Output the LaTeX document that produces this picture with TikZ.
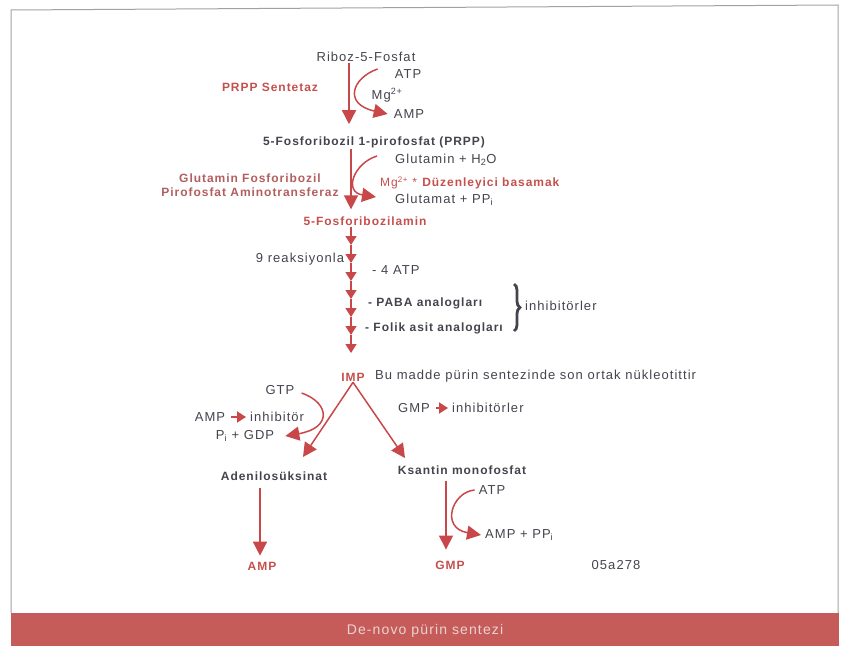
\documentclass[tikz,border=0pt]{standalone}
\usepackage{fontspec}
\setmainfont[LetterSpace=8]{Liberation Sans}
\usepackage{tikz}
\usetikzlibrary{arrows.meta,positioning,calc,decorations.pathreplacing}
\definecolor{pathred}{HTML}{C8484A}
\definecolor{labred}{HTML}{C4504D}
\definecolor{enzred}{HTML}{B25E5E}
\definecolor{labgray}{HTML}{45434D}
\definecolor{barred}{HTML}{C65C59}
\definecolor{barlight}{HTML}{EAD3D3}
\definecolor{framegray}{HTML}{A59FA5}

\begin{document}
\begin{tikzpicture}[x=1pt,y=-1pt,
  lab/.style={text=labgray,font=\fontsize{13}{15}\selectfont,inner sep=1pt},
  blab/.style={lab,font=\fontsize{12}{14}\selectfont\bfseries},
  rlab/.style={blab,text=labred},
  arr/.style={draw=pathred,line width=1.5pt,-{Triangle[length=14pt,width=14pt]}},
  smallarr/.style={draw=pathred,line width=1.5pt,-{Triangle[length=9pt,width=11pt]}},
  inharr/.style={draw=pathred,line width=2pt,-{Triangle[length=9pt,width=11pt]},shorten <=5pt,shorten >=3pt},
  bracket/.style={draw=labgray,line width=2.8pt,decorate,decoration={brace,amplitude=6pt}}
]
\useasboundingbox (0,0) rectangle (848,653);
% frame and caption bar
\draw[framegray,line width=1pt] (11,613) -- (11,10) -- (838,5) -- (838,613);
\fill[barred] (11,613) rectangle (839,646);
\node[font=\fontsize{14}{16}\selectfont,text=barlight] (title) at (425,631) {De-novo pürin sentezi};

% PRPP step
\node[lab] (riboz) at (366,57) {Riboz-5-Fosfat};
\node[lab] (atpa) at (408,74) {ATP};
\node[lab] (mg) at (387,95) {Mg\textsuperscript{2+}};
\node[lab] (ampa) at (409,114) {AMP};
\node[rlab] (prs) at (270,87) {PRPP Sentetaz};
\node[blab] (prpp) at (374,142) {5-Fosforibozil 1-pirofosfat (PRPP)};

% committed step
\node[lab,anchor=west] (glnw) at (394,160) {Glutamin + H\textsubscript{2}O};
\node[lab,font=\fontsize{12}{14}\selectfont,text=labred,anchor=west] (reg) at (379,183) {Mg\textsuperscript{2+} * \textbf{Düzenleyici basamak}};
\node[lab,anchor=west] (glup) at (394,200) {Glutamat + PP\textsubscript{i}};
\node[rlab,text=enzred,align=center] (gpat) at (250,185) {Glutamin Fosforibozil\\Pirofosfat Aminotransferaz};
\node[rlab] (amin) at (365,221) {5-Fosforibozilamin};

% nine reactions
\node[lab] (reak) at (300,259) {9 reaksiyonla};
\node[lab,anchor=west] (atp4) at (371,270) {- 4 ATP};
\node[blab,anchor=west] (paba) at (367,303) {- PABA analogları};
\node[blab,anchor=west] (folik) at (364,328) {- Folik asit analogları};
\node[lab,anchor=west] (inh) at (524,306) {inhibitörler};
\draw[bracket] (514,284) -- (514,331);

% branch point
\node[rlab] (imp) at (353,377) {IMP};
\node[lab,anchor=west] (bu) at (374,376) {Bu madde pürin sentezinde son ortak nükleotittir};
\node[lab] (gtp) at (280,390) {GTP};
\node[lab] (ampi) at (210,417) {AMP};
\node[lab,anchor=west] (inha) at (249,417) {inhibitör};
\node[lab] (pigdp) at (245,436) {P\textsubscript{i} + GDP};
\node[lab] (gmpi) at (414,408) {GMP};
\node[lab,anchor=west] (inhg) at (451,408) {inhibitörler};
\node[blab] (ads) at (274,476) {Adenilosüksinat};
\node[blab] (xmp) at (462,470) {Ksantin monofosfat};
\node[lab] (atpc) at (492,490) {ATP};
\node[lab,anchor=west] (amppp) at (484,535) {AMP + PP\textsubscript{i}};
\node[rlab] (ampf) at (262,566) {AMP};
\node[rlab] (gmpf) at (450,565) {GMP};
\node[lab] (code) at (616,565) {05a278};

\coordinate (ax) at (349,0);
\coordinate (ch) at (351,0);
\coordinate (adtip) at (303,457);
\coordinate (xtip) at (405,458);

\draw[arr,shorten >=11pt] (riboz.south -| ax) -- (prpp.north -| ax);
\draw[arr] ([xshift=-16pt,yshift=5pt]atpa.west) .. controls (352,78) and (343,104) .. ([xshift=-5pt]ampa.west);
\draw[arr,shorten >=6pt] (prpp.south -| ch) -- (amin.north -| ch);
\draw[arr] ([xshift=-17pt,yshift=4pt]glnw.west) .. controls (354,163) and (343,192) .. ([xshift=-18pt,yshift=3pt]glup.west);

\coordinate (c0) at (amin.south -| ch);
\foreach \k [remember=\k as \prev (initially 0)] in {1,...,7}{
  \coordinate (c\k) at (351,{227+18*\k});
  \draw[smallarr] (c\prev) -- (c\k);
}

\draw[arr] (imp.south) -- (adtip);
\draw[arr] (imp.south) -- (xtip);
\draw[arr] ([xshift=6pt,yshift=-3pt]gtp.east) .. controls (330,403) and (332,428) .. ([xshift=10pt]pigdp.east);
\draw[inharr] (ampi) -- (inha);
\draw[inharr] (gmpi) -- (inhg);

\draw[arr,shorten <=6pt,shorten >=5pt] (ads.south -| 260,0) -- (ampf.north -| 260,0);
\draw[arr,shorten <=5pt,shorten >=10pt] (xmp.south -| 446,0) -- (gmpf.north -| 446,0);
\draw[arr] ([xshift=-3pt]atpc.west) .. controls (452,492) and (440,528) .. ([xshift=-3pt]amppp.west);
\end{tikzpicture}
\end{document}
